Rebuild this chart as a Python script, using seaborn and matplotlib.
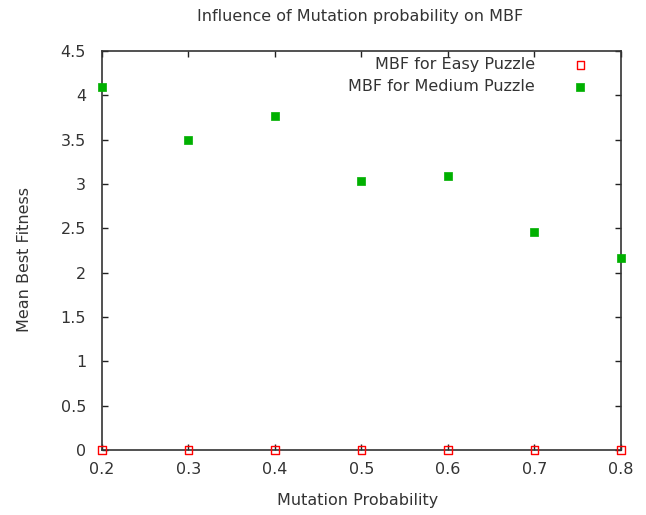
import matplotlib
matplotlib.use("Agg")
import matplotlib.pyplot as plt
import seaborn as sns
import pandas as pd

mutation_prob = [0.2, 0.3, 0.4, 0.5, 0.6, 0.7, 0.8]
mbf_easy = [0, 0, 0, 0, 0, 0, 0]
mbf_medium = [4.09, 3.50, 3.77, 3.03, 3.09, 2.46, 2.16]
series_names = ["MBF for Easy Puzzle", "MBF for Medium Puzzle"]

df = pd.DataFrame({
    "x": mutation_prob * 2,
    "y": mbf_easy + mbf_medium,
    "series": [series_names[0]] * len(mutation_prob) + [series_names[1]] * len(mutation_prob),
})

sns.set_style("white")
plt.rcParams["font.family"] = ["DejaVu Sans"]

W, H = 646, 515
fig = plt.figure(figsize=(W / 100, H / 100), dpi=100)
x0, x1, y0, y1 = 102, 621, 450, 51
ax = fig.add_axes([x0 / W, 1 - y0 / H, (x1 - x0) / W, (y0 - y1) / H])

def ax_x(px):
    return (px - x0) / (x1 - x0)

def ax_y(py):
    return (y0 - py) / (y0 - y1)

text_color = "#333333"
fs = 11.5

easy = df[df.series == series_names[0]]
med = df[df.series == series_names[1]]
sns.scatterplot(data=easy, x="x", y="y", ax=ax, marker="s", s=30,
                facecolor="none", edgecolor="#ff0000", linewidth=1.0,
                label=series_names[0], clip_on=False, zorder=5)
sns.scatterplot(data=med, x="x", y="y", ax=ax, marker="s", s=36,
                color="#00b000", edgecolor="#00b000", linewidth=0.5,
                label=series_names[1], clip_on=False, zorder=5)

ax.set_xlim(0.2, 0.8)
ax.set_ylim(0, 4.5)
ax.set_xticks([0.2, 0.3, 0.4, 0.5, 0.6, 0.7, 0.8])
ax.set_xticklabels(["0.2", "0.3", "0.4", "0.5", "0.6", "0.7", "0.8"])
ax.set_yticks([0, 0.5, 1, 1.5, 2, 2.5, 3, 3.5, 4, 4.5])
ax.set_yticklabels(["0", "0.5", "1", "1.5", "2", "2.5", "3", "3.5", "4", "4.5"])

ax.tick_params(direction="in", length=4.5, width=1, colors="#222222",
               labelcolor=text_color, labelsize=fs,
               top=True, right=True, bottom=True, left=True)
ax.tick_params(axis="x", pad=9)
ax.tick_params(axis="y", pad=11.5)
for sp in ax.spines.values():
    sp.set_color("#333333")
    sp.set_linewidth(1.2)

ax.set_xlabel("Mutation Probability", fontsize=fs, color=text_color)
ax.xaxis.set_label_coords(ax_x(358), ax_y(500))
ax.xaxis.label.set_va("center")
ax.set_ylabel("Mean Best Fitness", fontsize=fs, color=text_color)
ax.yaxis.set_label_coords(ax_x(25), ax_y(260))
ax.yaxis.label.set_va("center")
ax.set_title("Influence of Mutation probability on MBF", fontsize=fs,
             color=text_color, x=ax_x(360), y=ax_y(17), va="center", pad=0)

leg = ax.legend(loc="upper right", frameon=False, markerfirst=False,
                fontsize=fs, handletextpad=2.25, labelspacing=0.45,
                handlelength=1.2, borderaxespad=0.0, borderpad=0.0,
                bbox_to_anchor=(ax_x(590), ax_y(57)))
for t in leg.get_texts():
    t.set_color(text_color)

fig.savefig("out.png", dpi=100)
